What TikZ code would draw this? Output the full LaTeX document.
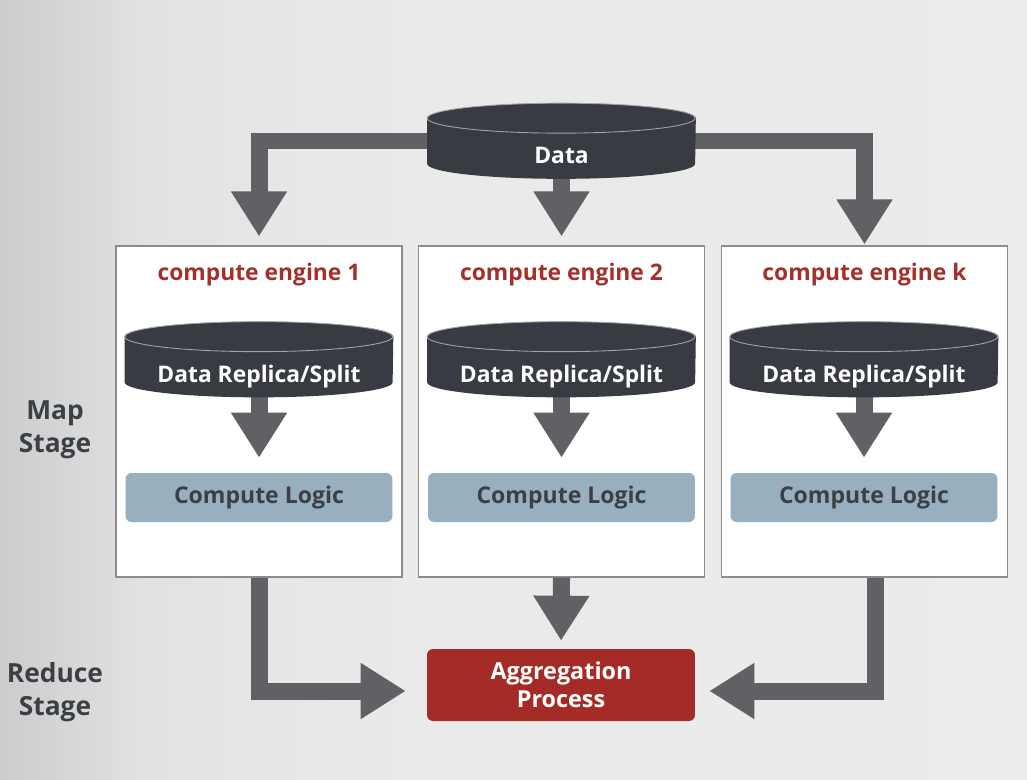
\documentclass[tikz,border=0pt]{standalone}
\usepackage{fontspec}
\setmainfont{Open Sans}
\usetikzlibrary{arrows.meta}
\definecolor{diskgray}{HTML}{383C42}
\definecolor{arrowgray}{HTML}{606165}
\definecolor{boxgray}{HTML}{8C8C8C}
\definecolor{titlered}{HTML}{A3302B}
\definecolor{logicblue}{HTML}{97AFBF}
\definecolor{labelgray}{HTML}{3B4047}
\definecolor{aggred}{HTML}{A52B26}
\definecolor{rimgray}{HTML}{A0A4A9}
\pgfdeclarehorizontalshading{bgshade}{100bp}{color(0bp)=(black!20); color(25bp)=(black!20); color(32bp)=(black!11.5); color(42bp)=(black!8.5); color(75bp)=(black!7.5); color(100bp)=(black!7.5)}
\newcommand{\drawdisk}[1]{%
  \fill[diskgray] ([yshift=-0.3cm]#1.north west) -- ([yshift=0.3cm]#1.south west)
    arc[start angle=180, end angle=360, x radius=2.68cm, y radius=0.3cm]
    -- ([yshift=-0.3cm]#1.north east)
    arc[start angle=0, end angle=180, x radius=2.68cm, y radius=0.3cm] -- cycle;
  \draw[rimgray, line width=0.5pt] ([yshift=-0.3cm]#1.north west)
    arc[start angle=180, end angle=-180, x radius=2.68cm, y radius=0.3cm];
}
\tikzset{
  flow/.style={draw=arrowgray, line width=0.34cm, -{Triangle[width=1.06cm,length=0.9cm]}},
  engine/.style={draw=boxgray, fill=white, line width=0.7pt, minimum width=5.72cm, minimum height=6.62cm, inner sep=0pt},
  logic/.style={fill=logicblue, rounded corners=0.12cm, minimum width=5.34cm, minimum height=0.98cm, inner sep=0pt, text=labelgray, font=\bfseries\fontsize{13.1}{15}\selectfont},
  disk/.style={minimum width=5.36cm, minimum height=1.5cm, inner sep=0pt},
  disktext/.style={anchor=base, text=white, font=\bfseries\fontsize{13}{16}\selectfont},
  title/.style={anchor=base, text=titlered, font=\bfseries\fontsize{13}{16}\selectfont},
  stage/.style={align=center, text=labelgray, font=\bfseries\fontsize{15}{18.7}\selectfont},
  aggbox/.style={fill=aggred, rounded corners=0.12cm, minimum width=5.36cm, minimum height=1.44cm, inner sep=0pt, align=center, text=white, font=\bfseries\fontsize{13.3}{15.8}\selectfont}
}
\begin{document}
\begin{tikzpicture}[x=0.02cm, y=0.02cm]
  % background
  \shade[shading=bgshade] (0,0) rectangle (1027,779);
  \useasboundingbox (0,0) rectangle (1027,779);

  % engines
  \node[engine] (eng1) at (259,367.5) {};
  \node[engine] (eng2) at (561.5,367.5) {};
  \node[engine] (eng3) at (864.5,367.5) {};
  \node[title] (title1) at (259,499) {compute engine 1};
  \node[title] (title2) at (561.5,499) {compute engine 2};
  \node[title] (title3) at (864.5,499) {compute engine k};
  \node[logic] (logic1) at (259,281.5) {Compute Logic};
  \node[logic] (logic2) at (561.5,281.5) {Compute Logic};
  \node[logic] (logic3) at (864,281.5) {Compute Logic};

  % disks
  \node[disk] (data) at (561.5,638) {};
  \node[disk] (rep1) at (259,419.5) {};
  \node[disk] (rep2) at (561.5,419.5) {};
  \node[disk] (rep3) at (864,419.5) {};

  \node[aggbox] (agg) at (561,94) {Aggregation\\Process};

  % arrows
  \draw[flow, shorten >=0.18cm] (data.center) -| (eng1.north);
  \draw[flow, shorten >=0.18cm] (data.center) -- (eng2.north);
  \draw[flow, shorten >=0.02cm] (data.center) -| (eng3.north);
  \draw[flow, shorten >=0.3cm] (rep1.center) -- (logic1.north);
  \draw[flow, shorten >=0.3cm] (rep2.center) -- (logic2.north);
  \draw[flow, shorten >=0.3cm] (rep3.center) -- (logic3.north);
  \draw[flow, shorten >=0.42cm] (eng1.south) |- ([yshift=-0.12cm]agg.west);
  \draw[flow, shorten >=0.16cm] (eng2.south) -- (agg.north);
  \draw[flow, shorten >=0.28cm] ([xshift=0.22cm]eng3.south) |- ([yshift=-0.12cm]agg.east);

  \drawdisk{data}
  \drawdisk{rep1}
  \drawdisk{rep2}
  \drawdisk{rep3}
  \node[disktext] (datat) at (561.5,616) {Data};
  \node[disktext] (rep1t) at (259,397) {Data Replica/Split};
  \node[disktext] (rep2t) at (561.5,397) {Data Replica/Split};
  \node[disktext] (rep3t) at (864,397) {Data Replica/Split};

  % stages
  \node[stage] (map) at (55,349) {Map\\Stage};
  \node[stage] (reduce) at (55,87) {Reduce\\Stage};
\end{tikzpicture}
\end{document}
